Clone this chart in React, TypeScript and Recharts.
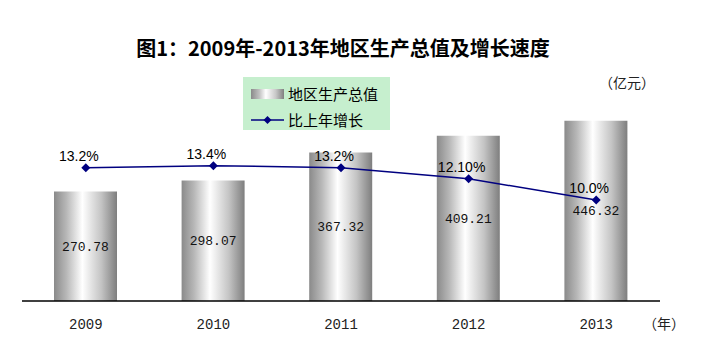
import React from "react";
import {
  Bar,
  ComposedChart,
  LabelList,
  Line,
  XAxis,
  YAxis,
} from "recharts";

const years = ["2009", "2010", "2011", "2012", "2013"];
const gdpValues = [270.78, 298.07, 367.32, 409.21, 446.32];
const growthValues = [13.2, 13.4, 13.2, 12.1, 10.0];
const growthLabels = ["13.2%", "13.4%", "13.2%", "12.10%", "10.0%"];

const NAVY = "#000080";
const CJK = '"Noto Sans CJK SC", sans-serif';
const MONO = '"Liberation Mono", monospace';

const data = years.map((year, i) => ({
  year,
  gdp: gdpValues[i],
  growth: growthValues[i],
  growthLabel: growthLabels[i],
}));

function Diamond(props: { cx?: number; cy?: number }) {
  const { cx, cy } = props;
  if (cx == null || cy == null) return null;
  const r = 4.5;
  return (
    <polygon
      points={`${cx},${cy - r} ${cx + r},${cy} ${cx},${cy + r} ${cx - r},${cy}`}
      fill={NAVY}
    />
  );
}

function GrowthLabel(props: any) {
  const { x, y, value } = props;
  return (
    <text
      x={x - 7}
      y={y - 12}
      textAnchor="middle"
      dominantBaseline="central"
      fontSize={14}
      fontFamily='"Liberation Sans", Arial, sans-serif'
      fill="#000"
    >
      {value}
    </text>
  );
}

export default function App() {
  return (
    <div
      style={{
        position: "absolute",
        left: 0,
        top: 0,
        width: 727,
        height: 356,
        background: "#fff",
      }}
    >
      <div
        style={{
          position: "absolute",
          left: 0,
          width: 686,
          top: 35,
          textAlign: "center",
          fontFamily: CJK,
          fontWeight: 700,
          fontSize: 20,
          lineHeight: "26px",
          color: "#000",
        }}
      >
        图1：2009年-2013年地区生产总值及增长速度
      </div>
      <div
        style={{
          position: "absolute",
          left: 599,
          top: 73,
          fontFamily: CJK,
          fontSize: 14,
          lineHeight: "18px",
          color: "#222",
        }}
      >
        （亿元）
      </div>

      {/* legend */}
      <div
        style={{
          position: "absolute",
          left: 243,
          top: 77,
          width: 147,
          height: 53,
          background: "#c6efce",
          fontFamily: CJK,
          fontSize: 15,
          color: "#000",
        }}
      >
        <div style={{ position: "absolute", left: 8, top: 8, display: "flex", alignItems: "center" }}>
          <span
            style={{
              width: 33,
              height: 10,
              background:
                "linear-gradient(to right, #8a8a8a, #c0c0c0 25%, #ffffff 45%, #c8c8c8 75%, #808080)",
              marginRight: 4,
            }}
          />
          <span style={{ lineHeight: "18px" }}>地区生产总值</span>
        </div>
        <div style={{ position: "absolute", left: 8, top: 34, display: "flex", alignItems: "center" }}>
          <svg width={33} height={10} style={{ marginRight: 4 }}>
            <line x1={0} y1={5} x2={33} y2={5} stroke={NAVY} strokeWidth={1.5} />
            <polygon points="16.5,1 20.5,5 16.5,9 12.5,5" fill={NAVY} />
          </svg>
          <span style={{ lineHeight: "18px" }}>比上年增长</span>
        </div>
      </div>

      <div
        style={{
          position: "absolute",
          left: 643,
          top: 314,
          fontFamily: CJK,
          fontSize: 14,
          lineHeight: "18px",
          color: "#222",
        }}
      >
        （年）
      </div>

      <div style={{ position: "absolute", left: 0, top: 0 }}>
        <ComposedChart
          width={727}
          height={356}
          data={data}
          margin={{ top: 99, right: 67, left: 22, bottom: 0 }}
          barCategoryGap="0%"
        >
          <defs>
            <linearGradient id="cyl" x1="0" y1="0" x2="1" y2="0">
              <stop offset="0%" stopColor="#8a8a8a" />
              <stop offset="20%" stopColor="#b8b8b8" />
              <stop offset="45%" stopColor="#ffffff" />
              <stop offset="75%" stopColor="#c4c4c4" />
              <stop offset="100%" stopColor="#7e7e7e" />
            </linearGradient>
          </defs>
          <XAxis
            dataKey="year"
            height={55}
            axisLine={{ stroke: "#000", strokeWidth: 1.5 }}
            tickLine={false}
            tick={{ fontSize: 14, fontFamily: MONO, fill: "#222" }}
            dy={10}
          />
          <YAxis yAxisId="left" domain={[0, 500]} hide />
          <YAxis yAxisId="right" orientation="right" domain={[0, 20]} hide />
          <Bar
            yAxisId="left"
            dataKey="gdp"
            barSize={63}
            fill="url(#cyl)"
            isAnimationActive={false}
          >
            <LabelList
              dataKey="gdp"
              position="center"
              formatter={(v: any) => Number(v).toFixed(2)}
              style={{ fontSize: 13, fontFamily: MONO, fill: "#111" }}
            />
          </Bar>
          <Line
            yAxisId="right"
            type="linear"
            dataKey="growth"
            stroke={NAVY}
            strokeWidth={1.5}
            dot={<Diamond />}
            activeDot={false}
            isAnimationActive={false}
          >
            <LabelList dataKey="growthLabel" content={<GrowthLabel />} />
          </Line>
        </ComposedChart>
      </div>
    </div>
  );
}
